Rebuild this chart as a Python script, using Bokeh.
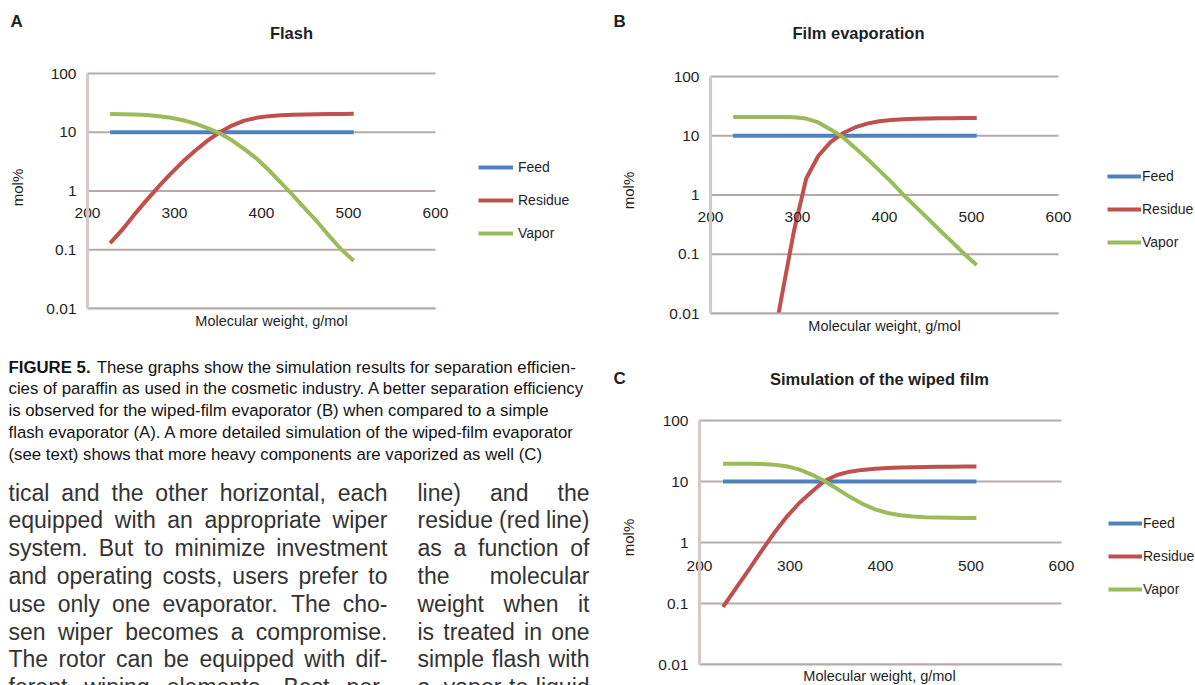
import math
from bokeh.plotting import figure
from bokeh.models import (FixedTicker, LinearAxis, Label, Legend, LegendItem,
                          Range1d, ColumnDataSource)
from bokeh.layouts import row, column
from bokeh.core.properties import value
from bokeh.embed import file_html
from bokeh.resources import INLINE

# ---------------- data ----------------
mw = [226, 240, 254, 268, 282, 296, 310, 324, 338, 352, 366,
      380, 394, 408, 422, 436, 450, 464, 478, 492, 506]
feed = [10.0, 10.0, 10.0, 10.0, 10.0, 10.0, 10.0, 10.0, 10.0, 10.0, 10.0,
        10.0, 10.0, 10.0, 10.0, 10.0, 10.0, 10.0, 10.0, 10.0, 10.0]
res_a = [0.13, 0.22, 0.4, 0.7, 1.2, 2.0, 3.2, 4.9, 7.2, 10.0, 13.0,
         15.8, 17.6, 18.8, 19.5, 19.9, 20.1, 20.3, 20.4, 20.5, 20.6]
vap_a = [20.5, 20.3, 20.0, 19.6, 18.8, 17.7, 16.0, 14.0, 11.8, 9.6, 7.3,
         5.2, 3.6, 2.3, 1.4, 0.85, 0.5, 0.3, 0.17, 0.1, 0.065]
res_b = [0.00001, 0.00005, 0.0002, 0.0015, 0.02, 0.25, 1.9, 4.6, 7.8, 11.0, 13.8,
         16.0, 17.6, 18.5, 19.0, 19.3, 19.5, 19.7, 19.8, 19.9, 20.0]
vap_b = [20.8, 20.8, 20.8, 20.8, 20.7, 20.5, 19.5, 16.8, 12.8, 9.5, 6.3,
         4.1, 2.6, 1.65, 1.0, 0.63, 0.4, 0.25, 0.16, 0.1, 0.066]
res_c = [0.088, 0.176, 0.35, 0.71, 1.4, 2.6, 4.4, 6.8, 10.2, 12.8, 14.5,
         15.5, 16.2, 16.6, 16.9, 17.1, 17.3, 17.4, 17.5, 17.6, 17.6]
vap_c = [19.6, 19.6, 19.5, 19.3, 18.9, 17.8, 15.8, 13.0, 10.2, 7.6, 5.6,
         4.3, 3.5, 3.05, 2.8, 2.68, 2.6, 2.56, 2.54, 2.53, 2.52]

series_names = ["Feed", "Residue", "Vapor"]
x_ticks = [200, 300, 400, 500, 600]
y_ticks = [0.01, 0.1, 1, 10, 100]
y_tick_labels = ["0.01", "0.1", "1", "10", "100"]
titles = ["Flash", "Film evaporation", "Simulation of the wiped film"]
panel_letters = ["A", "B", "C"]
x_title = "Molecular weight, g/mol"
y_title = "mol%"

caption_bold = "FIGURE 5."
caption_lines = [
    "These graphs show the simulation results for separation efficien-",
    "cies of paraffin as used in the cosmetic industry. A better separation efficiency",
    "is observed for the wiped-film evaporator (B) when compared to a simple",
    "flash evaporator (A). A more detailed simulation of the wiped-film evaporator",
    "(see text) shows that more heavy components are vaporized as well (C)",
]
body_left = [
    "tical and the other horizontal, each",
    "equipped with an appropriate wiper",
    "system. But to minimize investment",
    "and operating costs, users prefer to",
    "use only one evaporator. The cho-",
    "sen wiper becomes a compromise.",
    "The rotor can be equipped with dif-",
    "ferent wiping elements. Best per-",
]
body_right = [
    "line) and the",
    "residue (red line)",
    "as a function of",
    "the molecular",
    "weight when it",
    "is treated in one",
    "simple flash with",
    "a vapor-to-liquid",
]

# ---------------- styles ----------------
FONT = "Liberation Sans"
COLORS = {"Feed": "#4f81bd", "Residue": "#c0504d", "Vapor": "#9bbb59"}
GRID = "#b6a9a9"
TXT = "#1f1f1f"

# Helvetica / Arial advance widths (1/1000 em), used to lay out the text block
HELV = {' ': 278, ',': 278, '.': 278, '-': 333, '(': 333, ')': 333, '%': 889,
        'A': 667, 'B': 667, 'C': 722, 'D': 722, 'E': 667, 'F': 611, 'G': 778,
        'H': 722, 'I': 278, 'J': 500, 'K': 667, 'L': 556, 'M': 833, 'N': 722,
        'O': 778, 'P': 667, 'Q': 778, 'R': 722, 'S': 667, 'T': 611, 'U': 722,
        'V': 667, 'W': 944, 'X': 667, 'Y': 667, 'Z': 611,
        'a': 556, 'b': 556, 'c': 500, 'd': 556, 'e': 556, 'f': 278, 'g': 556,
        'h': 556, 'i': 222, 'j': 222, 'k': 500, 'l': 222, 'm': 833, 'n': 556,
        'o': 556, 'p': 556, 'q': 556, 'r': 333, 's': 500, 't': 278, 'u': 556,
        'v': 500, 'w': 722, 'x': 500, 'y': 500, 'z': 500}
HELV_BOLD = {'F': 611, 'I': 278, 'G': 778, 'U': 722, 'R': 722, 'E': 667,
             ' ': 278, '5': 556, '.': 278}


def tw(s, table, size):
    return sum(table.get(ch, 556) for ch in s) * size / 1000.0


# chart geometry (page pixels): figure origin & size, plot rectangle (L, R, T, B)
specs = [
    dict(origin=(0, 0), size=(600, 343), rect=(87, 435, 73, 308), std=11,
         letter=(10, 21), title=(291, 32), ylab=(17, 187), xlab=(271, 320),
         leg=(478, 167, 35, 5)),
    dict(origin=(600, 0), size=(595, 348), rect=(710, 1058, 76, 313), std=11,
         letter=(613, 21), title=(858, 32), ylab=(628, 190), xlab=(884, 325),
         leg=(1107, 176, 34, 1)),
    dict(origin=(600, 348), size=(595, 337), rect=(699, 1061, 420, 664), std=12,
         letter=(613, 378), title=(879, 378), ylab=(628, 537), xlab=(879, 675),
         leg=(1108, 523, 34, 1)),
]
data_sets = [(res_a, vap_a), (res_b, vap_b), (res_c, vap_c)]


def build_chart(i):
    sp = specs[i]
    res, vap = data_sets[i]
    ox, oy = sp["origin"]
    W, H = sp["size"]
    L, R, T, B = sp["rect"]
    l, r, t, b = L - ox, R - ox, T - oy, B - oy
    x0, x1 = x_ticks[0], x_ticks[-1]
    y0, y1 = y_ticks[0], y_ticks[-1]
    kx = (r - l) / (x1 - x0)
    dec = (b - t) / math.log10(y1 / y0)
    xs, xe = x0 - l / kx, x1 + (W - r) / kx
    ys, ye = y0 / 10 ** ((H - b) / dec), y1 * 10 ** (t / dec)

    p = figure(width=W, height=H, x_range=Range1d(xs, xe), y_range=Range1d(ys, ye),
               y_axis_type="log", x_axis_type=None, toolbar_location=None,
               output_backend="svg", min_border=0)
    p.outline_line_color = None
    p.background_fill_color = "white"
    p.border_fill_color = "white"
    p.ygrid.visible = False

    # y axis (log), crossing at x = 200
    ya = p.yaxis[0]
    ya.fixed_location = x0
    ya.bounds = (y0, y1)
    ya.ticker = FixedTicker(ticks=y_ticks)
    ya.major_label_overrides = {tk: s for tk, s in zip(y_ticks, y_tick_labels)}
    ya.major_tick_line_color = None
    ya.minor_tick_line_color = None
    ya.axis_line_color = "#d3c9c9"
    ya.axis_line_width = 3
    ya.major_label_standoff = 5
    ya.major_label_text_font = FONT
    ya.major_label_text_font_size = "15.5px"
    ya.major_label_text_color = TXT

    # x axis crossing at y = 1
    xa = LinearAxis(fixed_location=1, ticker=FixedTicker(ticks=x_ticks), bounds=(x0, x1))
    xa.axis_line_color = None
    xa.major_tick_line_color = None
    xa.minor_tick_line_color = None
    xa.major_label_standoff = sp["std"]
    xa.major_label_text_font = FONT
    xa.major_label_text_font_size = "15.5px"
    xa.major_label_text_color = TXT
    p.add_layout(xa, "below")

    # horizontal gridlines at each decade
    n = len(y_ticks)
    p.segment(x0=[x0] * n, x1=[x1] * n, y0=y_ticks, y1=y_ticks,
              line_color=GRID, line_width=2)

    rs = {}
    for name, vals in (("Feed", feed), ("Residue", res), ("Vapor", vap)):
        rs[name] = p.line(mw, vals, line_color=COLORS[name], line_width=4,
                          line_join="round")

    # keep curves inside the plot area (below the 0.01 line)
    p.quad(left=[x0], right=[x1], top=[y0], bottom=[ys], fill_color="white",
           line_color=None)
    p.segment(x0=[x0], x1=[x1], y0=[y0], y1=[y0], line_color=GRID, line_width=2)

    def lab(text, pos, size, bold=False, align="center", angle=0.0):
        ax, ay = pos
        p.add_layout(Label(x=ax - ox, y=(oy + H) - ay, x_units="screen", y_units="screen",
                           text=text, text_font=FONT, text_font_size=f"{size}px",
                           text_font_style="bold" if bold else "normal",
                           text_align=align, text_baseline="middle", angle=angle,
                           text_color=TXT))

    lab(panel_letters[i], sp["letter"], 17, bold=True, align="left")
    lab(titles[i], sp["title"], 16.5, bold=True)
    lab(y_title, sp["ylab"], 15, angle=math.pi / 2)
    lab(x_title, sp["xlab"], 14.5)

    gx, gy, gw, st = sp["leg"]
    top = gy - 16
    bottom = top + 3 * 32 + 2 * 1
    items = [LegendItem(label=nm, renderers=[rs[nm]]) for nm in series_names]
    leg = Legend(items=items, location=(gx - ox, (oy + H) - bottom), orientation="vertical",
                 padding=0, margin=0, spacing=1, glyph_width=gw, glyph_height=32,
                 label_height=32, label_standoff=st, label_text_font=FONT,
                 label_text_font_size="14px", label_text_color=TXT,
                 border_line_color=None, background_fill_alpha=0)
    p.add_layout(leg, "center")
    return p


figA = build_chart(0)
figB = build_chart(1)
figC = build_chart(2)

# ---------------- text block (page coordinates) ----------------
tx0, ty0, tW, tH = 0, 343, 600, 342
pt = figure(width=tW, height=tH, x_range=Range1d(tx0, tx0 + tW),
            y_range=Range1d(ty0 + tH, ty0), x_axis_type=None, y_axis_type=None,
            toolbar_location=None, output_backend="svg", min_border=0)
pt.outline_line_color = None
pt.background_fill_color = "white"
pt.border_fill_color = "white"

CAP_SIZE = 16.8
cap_base, cap_dy = 366.5, 21.75
bold_w = tw(caption_bold, HELV_BOLD, CAP_SIZE)
cap_x = [8 + bold_w + 6] + [8] * (len(caption_lines) - 1)
cap_y = [cap_base + k * cap_dy for k in range(len(caption_lines))]
pt.text(x=[8], y=[cap_base], text=[caption_bold], text_font=value(FONT),
        text_font_size=f"{CAP_SIZE}px", text_font_style="bold", text_color="#141213",
        text_align="left", text_baseline="alphabetic")
pt.text(x="x", y="y", text="t",
        source=ColumnDataSource(dict(x=cap_x, y=cap_y, t=caption_lines)),
        text_font=value(FONT), text_font_size=f"{CAP_SIZE}px", text_color="#141213",
        text_align="left", text_baseline="alphabetic")

BODY_SIZE = 23
body_base, body_dy = 492, 27.8


def justify(lines, xa, xb):
    xs, ys, ts = [], [], []
    for k, line in enumerate(lines):
        words = line.split()
        ws = [tw(w, HELV, BODY_SIZE) for w in words]
        gap = (xb - xa - sum(ws)) / (len(words) - 1) if len(words) > 1 else 0
        x = xa
        for w, wd in zip(words, ws):
            xs.append(x)
            ys.append(body_base + k * body_dy)
            ts.append(w)
            x += wd + gap
    return xs, ys, ts


lx, ly, lt = justify(body_left, 8, 387)
rx, ry, rt = justify(body_right, 417, 589)
pt.text(x="x", y="y", text="t",
        source=ColumnDataSource(dict(x=lx + rx, y=ly + ry, t=lt + rt)),
        text_font=value(FONT), text_font_size=f"{BODY_SIZE}px", text_color="#333333",
        text_align="left", text_baseline="alphabetic")

layout = row(column(figA, pt), column(figB, figC))
open("out.html", "w").write(file_html(layout, INLINE))
